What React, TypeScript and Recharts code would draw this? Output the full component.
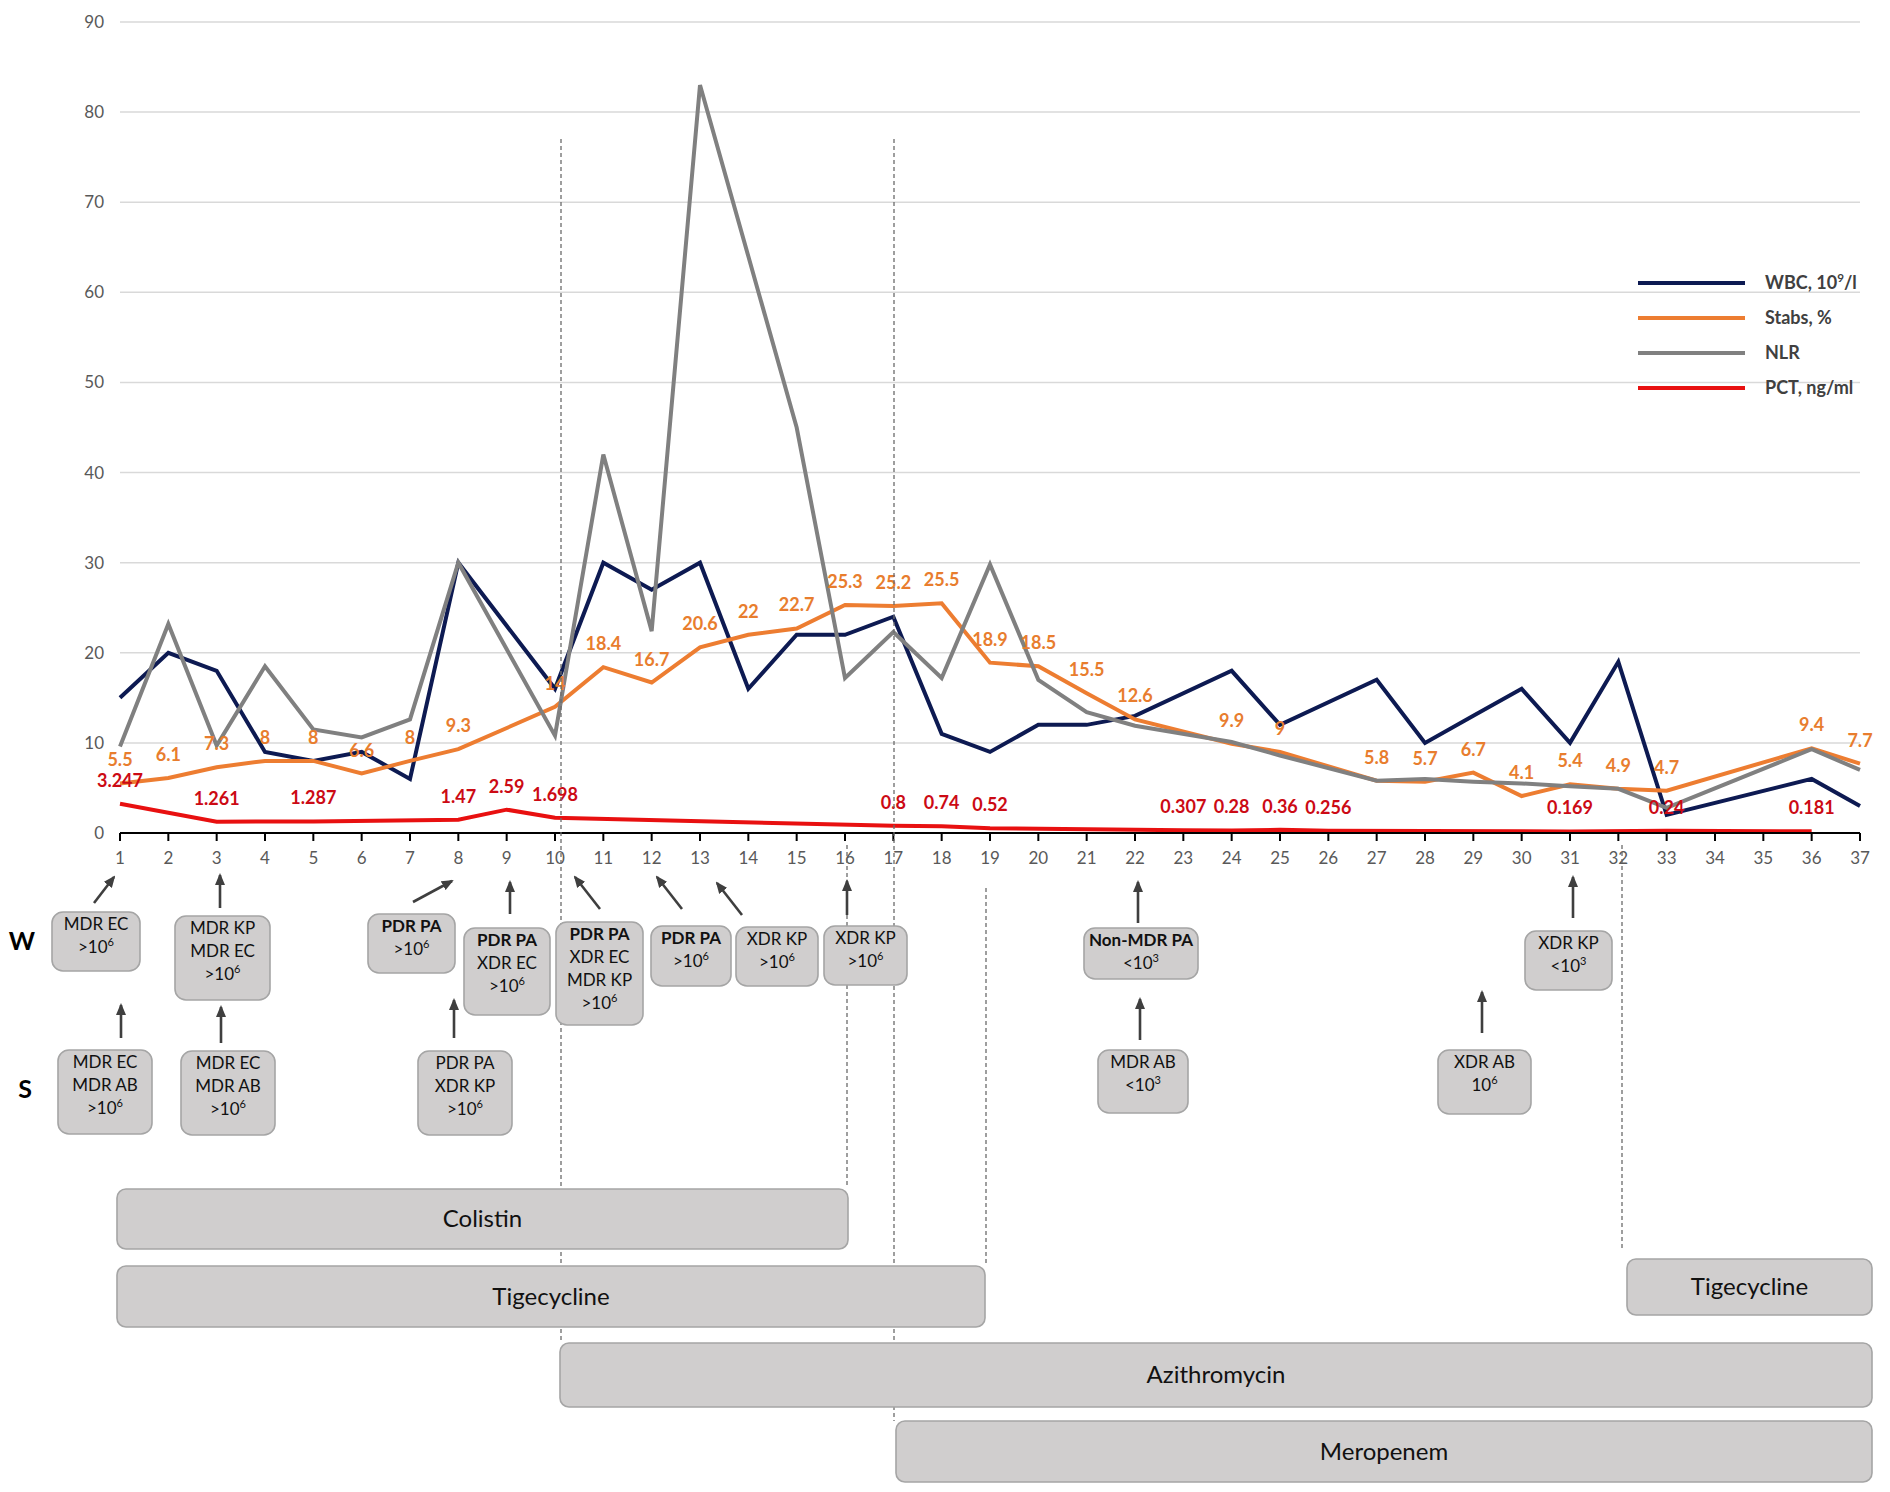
import React from "react";
import { LineChart, Line, XAxis, YAxis, CartesianGrid, LabelList } from "recharts";

// ---- data (day 1..37) ----
const days = [
  "1", "2", "3", "4", "5", "6", "7", "8", "9", "10", "11", "12", "13", "14", "15", "16", "17", "18", "19",
  "20", "21", "22", "23", "24", "25", "26", "27", "28", "29", "30", "31", "32", "33", "34", "35", "36", "37",
];
const wbc = [15, 20, 18, 9, 8, 9, 6, 30, null, 16, 30, 27, 30, 16, 22, 22, 24, 11, 9, 12, 12, 13, null, 18, 12, null, 17, 10, 13, 16, 10, 19, 2, null, null, 6, 3];
const stabs = [5.5, 6.1, 7.3, 8, 8, 6.6, 8, 9.3, null, 14, 18.4, 16.7, 20.6, 22, 22.7, 25.3, 25.2, 25.5, 18.9, 18.5, 15.5, 12.6, null, 9.9, 9, null, 5.8, 5.7, 6.7, 4.1, 5.4, 4.9, 4.7, null, null, 9.4, 7.7];
const nlr = [9.6, 23.2, 9.7, 18.5, 11.5, 10.6, 12.6, 30, null, 10.8, 42, 22.4, 83, 64, 45, 17.2, 22.3, 17.2, 29.8, 17, 13.4, 11.9, null, 10.1, 8.6, null, 5.8, 6, 5.7, 5.5, 5.2, 4.9, 2.8, null, null, 9.3, 7];
const pct = [3.247, null, 1.261, null, 1.287, null, null, 1.47, 2.59, 1.698, null, null, null, null, null, null, 0.8, 0.74, 0.52, null, null, null, 0.307, 0.28, 0.36, 0.256, null, null, null, null, 0.169, null, 0.24, null, null, 0.181, null];
const yTicks = [0, 10, 20, 30, 40, 50, 60, 70, 80, 90];

const series = [
  { key: "wbc", name: "WBC, 10{9}/l", color: "#0D1A52" },
  { key: "stabs", name: "Stabs, %", color: "#ED7D31" },
  { key: "nlr", name: "NLR", color: "#808080" },
  { key: "pct", name: "PCT, ng/ml", color: "#E81010" },
];

const data = days.map((day, i) => ({ day, wbc: wbc[i], stabs: stabs[i], nlr: nlr[i], pct: pct[i] }));

// ---- annotations below the axis ----
const cultures = [
  { rect: [52, 912, 140, 971], lines: ["MDR EC", ">10{6}"] },
  { rect: [175, 916, 270, 1000], lines: ["MDR KP", "MDR EC", ">10{6}"] },
  { rect: [58, 1050, 152, 1134], lines: ["MDR EC", "MDR AB", ">10{6}"] },
  { rect: [181, 1051, 275, 1135], lines: ["MDR EC", "MDR AB", ">10{6}"] },
  { rect: [368, 914, 455, 973], lines: ["**PDR PA", ">10{6}"] },
  { rect: [464, 928, 550, 1015], lines: ["**PDR PA", "XDR EC", ">10{6}"] },
  { rect: [418, 1051, 512, 1135], lines: ["PDR PA", "XDR KP", ">10{6}"] },
  { rect: [556, 922, 643, 1025], lines: ["**PDR PA", "XDR EC", "MDR KP", ">10{6}"] },
  { rect: [651, 926, 731, 986], lines: ["**PDR PA", ">10{6}"] },
  { rect: [736, 927, 818, 986], lines: ["XDR KP", ">10{6}"] },
  { rect: [824, 926, 907, 985], lines: ["XDR KP", ">10{6}"] },
  { rect: [1084, 928, 1198, 979], lines: ["**Non-MDR PA", "<10{3}"] },
  { rect: [1098, 1050, 1188, 1113], lines: ["MDR AB", "<10{3}"] },
  { rect: [1438, 1050, 1531, 1114], lines: ["XDR AB", "10{6}"] },
  { rect: [1525, 931, 1612, 990], lines: ["XDR KP", "<10{3}"] },
];

const arrows = [
  [94, 903, 114, 877], [220, 908, 220, 875], [121, 1038, 121, 1005], [221, 1043, 221, 1007],
  [413, 902, 452, 881], [510, 914, 510, 882], [454, 1038, 454, 1000],
  [600, 909, 575, 877], [682, 909, 657, 877], [742, 915, 717, 883], [847, 915, 847, 881],
  [1138, 923, 1138, 882], [1140, 1040, 1140, 999], [1482, 1033, 1482, 992], [1573, 918, 1573, 877],
];

const dashes = [
  [561, 139, 1343], [894, 139, 1421], [986, 888, 1266], [847, 845, 1185], [1622, 845, 1250],
];

const drugs = [
  { label: "Colistin", rect: [117, 1189, 848, 1249] },
  { label: "Tigecycline", rect: [117, 1266, 985, 1327] },
  { label: "Tigecycline", rect: [1627, 1259, 1872, 1315] },
  { label: "Azithromycin", rect: [560, 1343, 1872, 1407] },
  { label: "Meropenem", rect: [896, 1421, 1872, 1482] },
];

const FONT = "Lato, 'Open Sans', sans-serif";

// "10{6}" -> 10 with superscript 6
function Rich({ text, size }: { text: string; size: number }) {
  const parts = text.split(/(\{[^}]*\})/).filter((p) => p !== "");
  let up = false;
  return (
    <>
      {parts.map((p, i) => {
        if (p.startsWith("{")) {
          up = true;
          return (
            <tspan key={i} dy={-size * 0.4} fontSize={size * 0.65}>
              {p.slice(1, -1)}
            </tspan>
          );
        }
        const dy = up ? size * 0.4 : 0;
        up = false;
        return (
          <tspan key={i} dy={dy}>
            {p}
          </tspan>
        );
      })}
    </>
  );
}

const makeLabel = (color: string) => (props: any) => {
  const { value } = props;
  const x = props.x ?? props.viewBox?.x;
  const y = props.y ?? props.viewBox?.y;
  if (value == null || x == null || y == null) return null;
  return (
    <text x={x} y={y - 17} textAnchor="middle" fill={color} fontSize={18} fontWeight={700} fontFamily={FONT}>
      {value}
    </text>
  );
};

function Overlay() {
  return (
    <svg width={1890} height={1492} style={{ position: "absolute", left: 0, top: 0, pointerEvents: "none" }}>
      <defs>
        <marker id="head" markerWidth={12} markerHeight={10} refX={10} refY={5} orient="auto" markerUnits="userSpaceOnUse">
          <path d="M0,0 L12,5 L0,10 z" fill="#3F3F3F" />
        </marker>
      </defs>

      {dashes.map(([x, y1, y2], i) => (
        <line key={i} x1={x} x2={x} y1={y1} y2={y2} stroke="#6B6B6B" strokeWidth={1.3} strokeDasharray="4 3" />
      ))}

      {/* legend */}
      {series.map((s, i) => {
        const y = 283 + i * 35;
        return (
          <g key={s.key}>
            <line x1={1638} x2={1745} y1={y} y2={y} stroke={s.color} strokeWidth={4} />
            <text x={1765} y={y + 6} fontSize={18} fontWeight={700} fill="#404040" fontFamily={FONT}>
              <Rich text={s.name} size={18} />
            </text>
          </g>
        );
      })}

      <text x={22} y={950} textAnchor="middle" fontSize={25} fontWeight={700} fontFamily={FONT}>W</text>
      <text x={25} y={1098} textAnchor="middle" fontSize={25} fontWeight={700} fontFamily={FONT}>S</text>

      {arrows.map(([x1, y1, x2, y2], i) => (
        <line key={i} x1={x1} y1={y1} x2={x2} y2={y2} stroke="#3F3F3F" strokeWidth={2.6} markerEnd="url(#head)" />
      ))}

      {cultures.map((b, i) => {
        const [x1, y1, x2, y2] = b.rect;
        return (
          <g key={i}>
            <rect x={x1} y={y1} width={x2 - x1} height={y2 - y1} rx={11} fill="#D0CECE" stroke="#A5A5A5" strokeWidth={1.6} />
            {b.lines.map((ln, j) => {
              const bold = ln.startsWith("**");
              return (
                <text key={j} x={(x1 + x2) / 2} y={y1 + 18 + j * 23} textAnchor="middle" fontSize={17}
                  fontWeight={bold ? 700 : 400} fill="#111" fontFamily={FONT}>
                  <Rich text={bold ? ln.slice(2) : ln} size={17} />
                </text>
              );
            })}
          </g>
        );
      })}

      {drugs.map((d, i) => {
        const [x1, y1, x2, y2] = d.rect;
        return (
          <g key={i}>
            <rect x={x1} y={y1} width={x2 - x1} height={y2 - y1} rx={9} fill="#D0CECE" stroke="#A5A5A5" strokeWidth={1.6} />
            <text x={(x1 + x2) / 2} y={(y1 + y2) / 2 + 8} textAnchor="middle" fontSize={24} fill="#111" fontFamily={FONT}>
              {d.label}
            </text>
          </g>
        );
      })}
    </svg>
  );
}

export default function App() {
  return (
    <div style={{ position: "absolute", left: 0, top: 0, width: 1890, height: 1492, background: "#fff", fontFamily: FONT }}>
      <div style={{ position: "absolute", left: 0, top: 0 }}>
        <LineChart width={1890} height={900} data={data} margin={{ top: 22, right: 30, left: 20, bottom: 27 }}>
          <CartesianGrid vertical={false} stroke="#D9D9D9" strokeWidth={1.5} />
          <XAxis
            dataKey="day"
            interval={0}
            height={40}
            tickSize={8}
            tickMargin={11}
            axisLine={{ stroke: "#000", strokeWidth: 2 }}
            tickLine={{ stroke: "#000", strokeWidth: 2 }}
            tick={{ fill: "#595959", fontSize: 17, fontFamily: FONT }}
          />
          <YAxis
            domain={[0, 90]}
            ticks={yTicks}
            width={100}
            axisLine={false}
            tickLine={false}
            tickMargin={10}
            tick={{ fill: "#595959", fontSize: 17, fontFamily: FONT }}
          />
          {series.map((s) => (
            <Line
              key={s.key}
              dataKey={s.key}
              type="linear"
              stroke={s.color}
              strokeWidth={4}
              dot={false}
              connectNulls
              isAnimationActive={false}
            >
              {s.key === "stabs" && <LabelList dataKey="stabs" content={makeLabel("#E87D2E")} />}
              {s.key === "pct" && <LabelList dataKey="pct" content={makeLabel("#CC0A14")} />}
            </Line>
          ))}
        </LineChart>
      </div>
      <Overlay />
    </div>
  );
}
